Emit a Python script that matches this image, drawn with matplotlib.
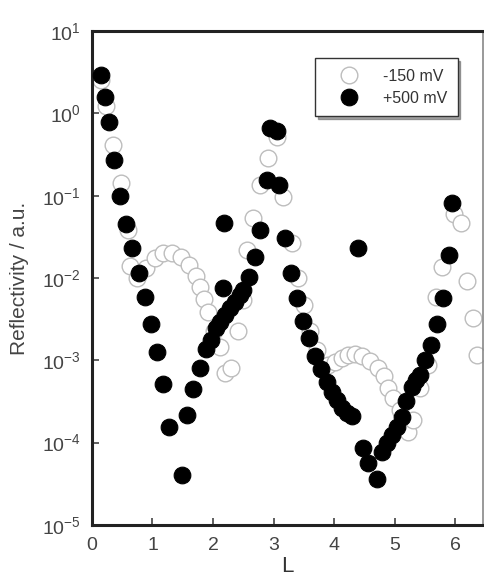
import matplotlib
matplotlib.use("Agg")
import matplotlib.pyplot as plt
from matplotlib.ticker import FixedLocator, NullLocator, LogFormatterSciNotation

plt.rcParams['font.family'] = ['Liberation Sans', 'DejaVu Sans']
plt.rcParams['mathtext.fontset'] = 'custom'
plt.rcParams['mathtext.rm'] = 'Liberation Sans'
plt.rcParams['mathtext.it'] = 'Liberation Sans:italic'
plt.rcParams['mathtext.default'] = 'regular'

# -150 mV (open circles)
L_neg = [0.149, 0.231, 0.347, 0.479, 0.595, 0.628, 0.744, 0.893, 1.041, 1.174,
         1.322, 1.471, 1.603, 1.719, 1.785, 1.851, 1.917, 2.017, 2.116, 2.198,
         2.298, 2.413, 2.496, 2.562, 2.661, 2.777, 2.909, 3.058, 3.157, 3.306,
         3.405, 3.504, 3.603, 3.719, 3.901, 4.017, 4.132, 4.231, 4.347, 4.463,
         4.595, 4.727, 4.826, 4.893, 4.975, 5.091, 5.223, 5.306, 5.421, 5.554,
         5.686, 5.785, 5.983, 6.099, 6.198, 6.298, 6.364]
R_neg = [2.54, 1.23, 0.41, 0.142, 0.038, 0.014, 0.0100, 0.0132, 0.0175, 0.0201,
         0.0201, 0.0180, 0.0144, 0.0105, 0.0077, 0.0055, 0.0039, 0.0023, 0.00145, 0.00070,
         0.00080, 0.0023, 0.0054, 0.0218, 0.053, 0.135, 0.286, 0.52, 0.096, 0.0265,
         0.0100, 0.0047, 0.0023, 0.00133, 0.00087, 0.00095, 0.00106, 0.00116, 0.00119, 0.00112,
         0.00098, 0.00080, 0.00064, 0.00046, 0.00035, 0.00025, 0.000134, 0.000188, 0.00046, 0.00087,
         0.0059, 0.0136, 0.060, 0.046, 0.0092, 0.0033, 0.00116]

# +500 mV (filled circles)
L_pos = [0.149, 0.215, 0.281, 0.364, 0.463, 0.562, 0.661, 0.777, 0.876, 0.975,
         1.074, 1.174, 1.273, 1.488, 1.570, 1.669, 1.785, 1.884, 1.967, 2.050,
         2.116, 2.198, 2.281, 2.364, 2.446, 2.496, 2.595, 2.694, 2.165, 2.182,
         2.777, 2.893, 2.942, 3.058, 3.091, 3.190, 3.289, 3.388, 3.488, 3.587,
         3.686, 3.785, 3.884, 3.967, 4.050, 4.132, 4.215, 4.298, 4.397, 4.479,
         4.562, 4.711, 4.793, 4.876, 4.959, 5.041, 5.124, 5.190, 5.289, 5.355,
         5.421, 5.504, 5.603, 5.702, 5.802, 5.901, 5.950]
R_pos = [2.92, 1.58, 0.78, 0.27, 0.10, 0.045, 0.023, 0.0115, 0.0059, 0.0028,
         0.00126, 0.00051, 0.000154, 4.0e-5, 0.000216, 0.000447, 0.000804, 0.00137, 0.00176, 0.00246,
         0.00291, 0.00354, 0.0043, 0.0051, 0.0062, 0.0071, 0.0103, 0.018, 0.0075, 0.046,
         0.038, 0.155, 0.66, 0.61, 0.135, 0.031, 0.0115, 0.0057, 0.0030, 0.00186,
         0.00112, 0.00078, 0.00054, 0.00041, 0.00033, 0.00026, 0.00023, 0.00021, 0.023, 8.6e-5,
         5.6e-5, 3.6e-5, 7.7e-5, 9.9e-5, 0.000123, 0.000154, 0.000204, 0.00032, 0.00047, 0.00057,
         0.00066, 0.0010, 0.00153, 0.0028, 0.0057, 0.019, 0.081]

labels = ["-150 mV", "+500 mV"]
x_ticks = [0, 1, 2, 3, 4, 5, 6]
y_ticks = [1e-5, 1e-4, 1e-3, 1e-2, 1e-1, 1e0, 1e1]

fig = plt.figure(figsize=(4.84, 5.85), dpi=100)
ax = fig.add_axes([0.190, 0.1026, 0.808, 0.8444])

ax.plot(L_neg, R_neg, linestyle='none', marker='o', markersize=12,
        markerfacecolor='white', markeredgecolor='#bdbdbd', markeredgewidth=1.0,
        label=labels[0], zorder=2)
ax.plot(L_pos, R_pos, linestyle='none', marker='o', markersize=12,
        markerfacecolor='black', markeredgecolor='black', markeredgewidth=0.8,
        label=labels[1], zorder=3)

ax.set_yscale('log')
ax.set_ylim(1e-5, 10)
ax.set_xlim(0, 6.46)
ax.xaxis.set_major_locator(FixedLocator(x_ticks))
ax.xaxis.set_minor_locator(NullLocator())
ax.yaxis.set_major_locator(FixedLocator(y_ticks))
ax.yaxis.set_major_formatter(LogFormatterSciNotation(base=10))
ax.yaxis.set_minor_locator(NullLocator())

ax.tick_params(axis='both', which='major', direction='in', length=5, width=1.2,
               colors='#444444', labelsize=14)
ax.tick_params(axis='x', pad=9)
ax.tick_params(axis='y', pad=8)
for lbl in ax.get_xticklabels() + ax.get_yticklabels():
    lbl.set_color('#444444')

for side in ['left', 'bottom', 'top']:
    ax.spines[side].set_linewidth(2.2)
    ax.spines[side].set_color('#222222')
ax.spines['right'].set_linewidth(1.2)
ax.spines['right'].set_color('#888888')

ax.set_ylabel('Reflectivity / a.u.', fontsize=15, color='#444444', labelpad=9)
ax.set_xlabel('L', fontsize=16, color='#333333', labelpad=1)

leg = ax.legend(loc='upper right', bbox_to_anchor=(0.935, 0.945), frameon=True,
                fancybox=False, shadow=True, fontsize=11.5, handletextpad=0.7,
                borderpad=0.65, labelspacing=0.45, handlelength=2.9,
                borderaxespad=0.0)
leg.get_frame().set_edgecolor('#333333')
leg.get_frame().set_linewidth(1.0)
for t in leg.get_texts():
    t.set_color('#333333')

fig.savefig('out.png', dpi=100)
